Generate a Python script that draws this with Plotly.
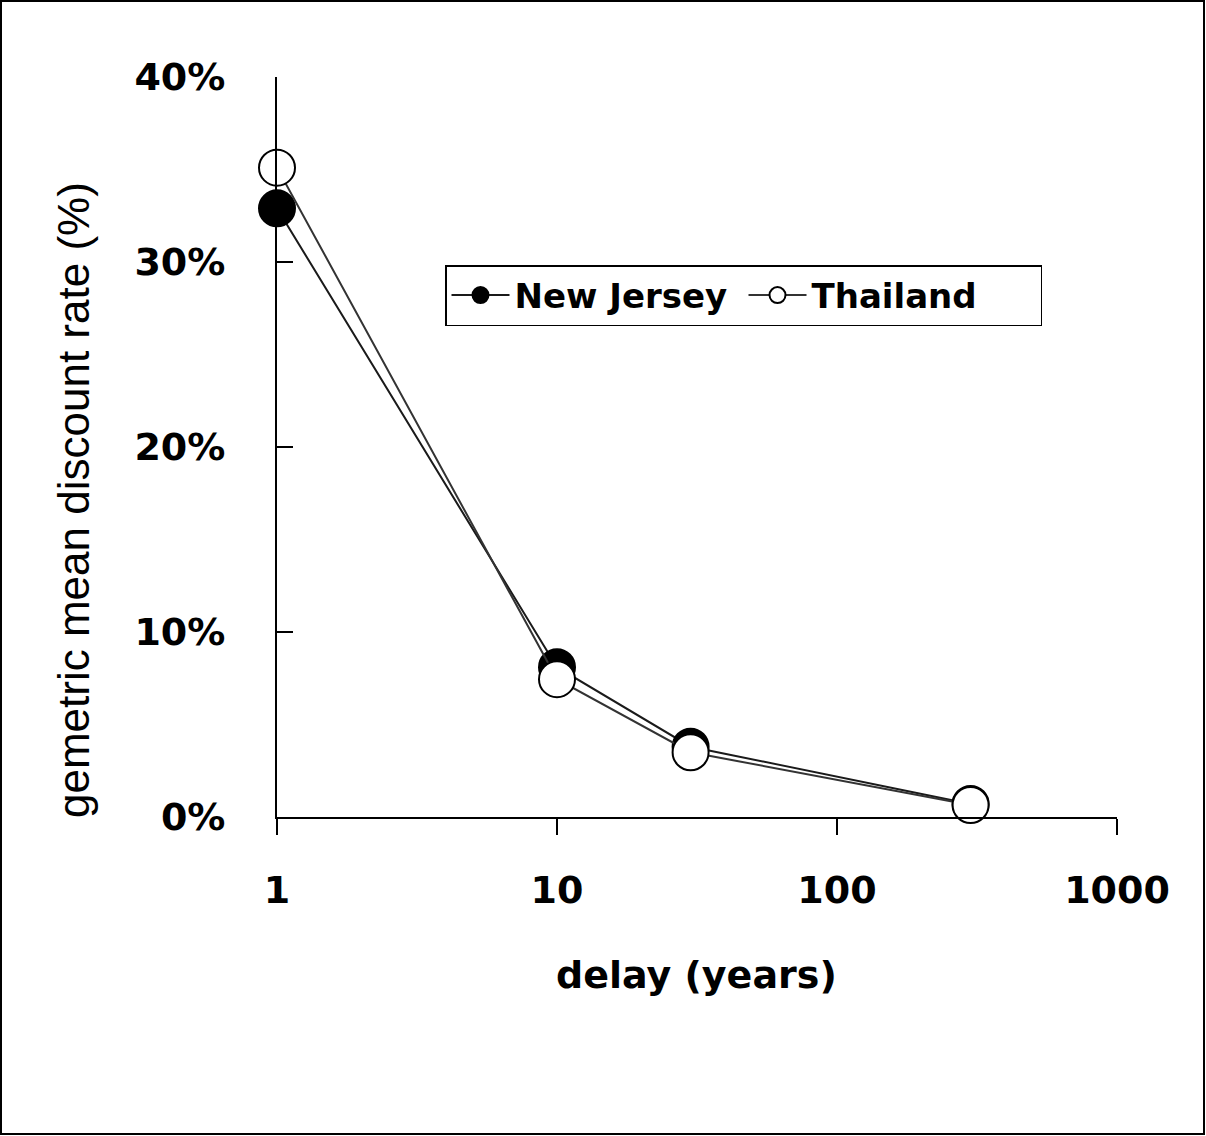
import plotly.graph_objects as go

delay_years = [1, 10, 30, 300]
new_jersey = [32.9, 8.1, 3.8, 0.7]
thailand = [35.1, 7.45, 3.5, 0.65]
y_ticks = [0, 10, 20, 30, 40]
y_tick_labels = ["0%", "10%", "20%", "30%", "40%"]
x_ticks = [1, 10, 100, 1000]
x_tick_labels = ["1", "10", "100", "1000"]

W, H = 1206, 1136
L, R, T, B = 277, 89, 77, 319
pw, ph = W - L - R, H - T - B

bold = dict(family="DejaVu Sans", size=38, color="black", weight="bold")

fig = go.Figure()
fig.add_trace(go.Scatter(
    x=delay_years, y=new_jersey, mode="lines+markers", name="New Jersey",
    cliponaxis=False,
    line=dict(color="#1a1a1a", width=2),
    marker=dict(size=36, color="black", line=dict(color="black", width=2)),
))
fig.add_trace(go.Scatter(
    x=delay_years, y=thailand, mode="lines+markers", name="Thailand",
    cliponaxis=False,
    line=dict(color="#333333", width=2),
    marker=dict(size=36, color="white", line=dict(color="black", width=2)),
))

fig.update_layout(
    width=W, height=H,
    margin=dict(l=L, r=R, t=T, b=B),
    paper_bgcolor="white", plot_bgcolor="white",
    showlegend=True,
    legend=dict(
        orientation="h", x=(445 - L) / pw, y=(817 - 265) / ph,
        xanchor="left", yanchor="top",
        bordercolor="black", borderwidth=1.5, bgcolor="white",
        font=dict(family="DejaVu Sans", size=34, color="black", weight="bold"),
        entrywidth=224, itemwidth=58,
    ),
    xaxis=dict(
        type="log", range=[0, 3], showgrid=False, zeroline=False,
        showline=True, linecolor="black", linewidth=2,
        ticks="outside", ticklen=16, tickwidth=2, tickcolor="black",
        tickvals=x_ticks, ticktext=x_tick_labels, tickfont=bold,
        ticklabelstandoff=22,
    ),
    yaxis=dict(
        range=[0, 40], showgrid=False, zeroline=False,
        showline=True, linecolor="black", linewidth=2,
        ticks="inside", ticklen=16, tickwidth=2, tickcolor="black",
        tickvals=y_ticks, ticktext=y_tick_labels, tickfont=bold,
        ticklabelstandoff=42,
    ),
    shapes=[dict(
        type="rect", xref="paper", yref="paper",
        x0=(1 - L) / pw, x1=(W - 2 - L) / pw,
        y0=(817 - (H - 2)) / ph, y1=(817 - 1) / ph,
        line=dict(color="black", width=2), fillcolor="rgba(0,0,0,0)",
    )],
    annotations=[
        dict(text="delay (years)", xref="paper", yref="paper",
             x=(696 - L) / pw, y=(817 - 975) / ph, xanchor="center", yanchor="middle",
             showarrow=False, font=bold),
        dict(text="gemetric mean discount rate (%)", xref="paper", yref="paper",
             x=(73 - L) / pw, y=(817 - 500) / ph, xanchor="center", yanchor="middle",
             textangle=-90, showarrow=False,
             font=dict(family="Liberation Sans", size=44, color="black")),
    ],
)

fig.write_html(
    "out.html",
    config={"displayModeBar": False},
    post_script="document.body.style.margin='0';document.body.style.overflow='hidden';",
)
